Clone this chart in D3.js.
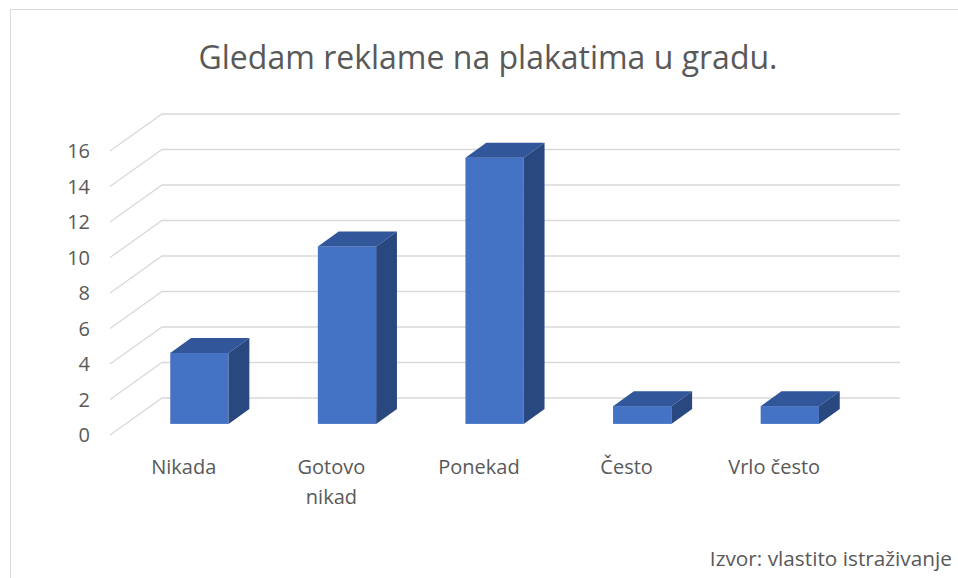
<!DOCTYPE html>
<html>
<head>
<meta charset="utf-8">
<script src="https://cdn.jsdelivr.net/npm/d3@7"></script>
<style>
  body { margin: 0; background: #fff; }
  text { font-family: "Open Sans", "DejaVu Sans", sans-serif; fill: #595959; }
</style>
</head>
<body>
<svg id="chart" width="958" height="578"></svg>
<script>
const categories = ["Nikada", "Gotovo nikad", "Ponekad", "Često", "Vrlo često"];
const values = [4, 10, 15, 1, 1];
const yTicks = [0, 2, 4, 6, 8, 10, 12, 14, 16];
const title = "Gledam reklame na plakatima u gradu.";
const source = "Izvor: vlastito istraživanje";

const width = 958, height = 578;
const svg = d3.select("#chart");

// oblique 3D offset for the full depth of the floor
const depthX = 52, depthY = -37;

// chart frame
svg.append("rect")
  .attr("x", 10.5).attr("y", 9.5)
  .attr("width", width + 20).attr("height", height + 20)
  .attr("fill", "none")
  .attr("stroke", "#d9d9d9");

svg.append("text")
  .attr("x", 488)
  .attr("y", 69)
  .attr("text-anchor", "middle")
  .style("font-size", "32px")
  .text(title);

const x = d3.scaleBand()
  .domain(categories)
  .range([110, 848]);

const y = d3.scaleLinear()
  .domain([0, 16])
  .range([435, 151]);

// gridlines: diagonal on the side wall, then horizontal on the back wall
svg.append("g")
  .selectAll("path")
  .data(yTicks)
  .enter()
  .append("path")
  .attr("d", d => {
    const p = d3.path();
    p.moveTo(x.range()[0], y(d));
    p.lineTo(x.range()[0] + depthX, y(d) + depthY);
    p.lineTo(x.range()[1] + depthX, y(d) + depthY);
    return p.toString();
  })
  .attr("fill", "none")
  .attr("stroke", "#d9d9d9")
  .attr("stroke-width", 1.3);

svg.append("g")
  .selectAll("text")
  .data(yTicks)
  .enter()
  .append("text")
  .attr("x", 90)
  .attr("y", d => y(d) + 2)
  .attr("text-anchor", "end")
  .attr("dominant-baseline", "middle")
  .style("font-size", "20px")
  .text(d => d);

// bars
const t0 = 0.3, t1 = 0.7;
const barW = x.bandwidth() * 0.395;
const bdx = (t1 - t0) * depthX, bdy = (t1 - t0) * depthY;

const bars = svg.append("g")
  .selectAll("g")
  .data(categories.map((c, i) => ({ c, v: values[i] })))
  .enter()
  .append("g");

const fx = d => x(d.c) + x.bandwidth() / 2 - barW / 2 + t0 * depthX;
const fy0 = () => y(0) + t0 * depthY;
const fy1 = d => y(d.v) + t0 * depthY;

// front face
bars.append("rect")
  .attr("x", fx)
  .attr("y", fy1)
  .attr("width", barW)
  .attr("height", d => fy0() - fy1(d))
  .attr("fill", "#4472c4");

// top face
bars.append("path")
  .attr("d", d => {
    const x0 = fx(d), yt = fy1(d);
    return `M${x0},${yt}L${x0 + bdx},${yt + bdy}L${x0 + barW + bdx},${yt + bdy}L${x0 + barW},${yt}Z`;
  })
  .attr("fill", "#31569a");

// side face
bars.append("path")
  .attr("d", d => {
    const x1 = fx(d) + barW, yt = fy1(d), yb = fy0();
    return `M${x1},${yt}L${x1 + bdx},${yt + bdy}L${x1 + bdx},${yb + bdy}L${x1},${yb}Z`;
  })
  .attr("fill", "#2a4880");

// category labels
const labels = svg.append("g")
  .selectAll("text")
  .data(categories)
  .enter()
  .append("text")
  .attr("x", d => x(d) + x.bandwidth() / 2)
  .attr("y", 474)
  .attr("text-anchor", "middle")
  .style("font-size", "20px");

labels.each(function(d) {
  const el = d3.select(this);
  const words = d.split(" ");
  // wrap long labels the way the original does
  if (d.length > 11) {
    words.forEach((w, i) => {
      el.append("tspan")
        .attr("x", x(d) + x.bandwidth() / 2)
        .attr("dy", i === 0 ? 0 : 30)
        .text(w);
    });
  } else {
    el.text(d);
  }
});

svg.append("text")
  .attr("x", 952)
  .attr("y", 566)
  .attr("text-anchor", "end")
  .style("font-size", "20.8px")
  .text(source);
</script>
</body>
</html>
